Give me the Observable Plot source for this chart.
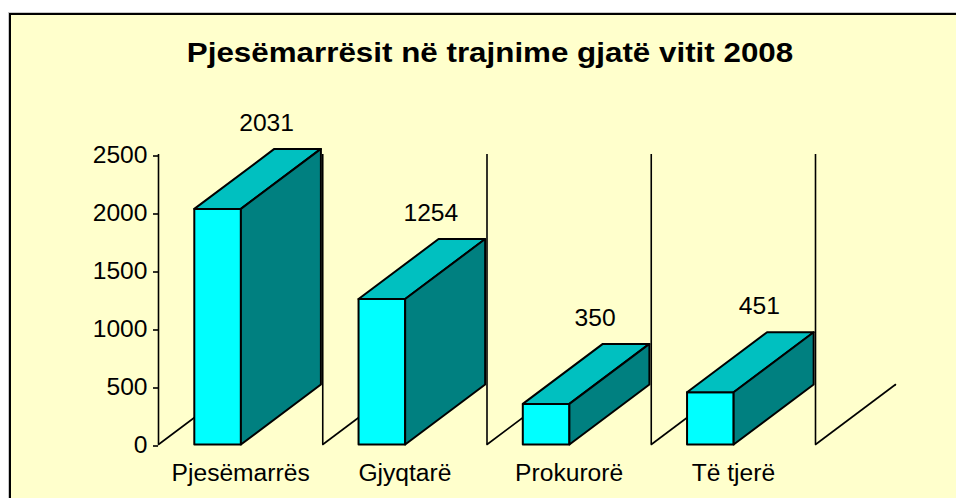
<!DOCTYPE html>
<html><head><meta charset="utf-8">
<script src="https://cdn.jsdelivr.net/npm/d3@7"></script>
<script src="https://cdn.jsdelivr.net/npm/@observablehq/plot@0.6"></script>
<style>
html,body{margin:0;padding:0;background:#fff;width:956px;height:498px;overflow:hidden;}
#frame{position:absolute;left:9px;top:13px;width:1000px;height:600px;background:#ffffcc;border-left:2px solid #000;border-top:2px solid #000;box-shadow:-1px -1px 0 #c8c8c8;}
#title{position:absolute;left:490px;top:38.5px;font:bold 27.5px/27.5px "Liberation Sans",Arial,sans-serif;white-space:nowrap;transform:translateX(-50%) scaleX(1.14);color:#000;}
#chart{position:absolute;left:0;top:0;}
</style></head><body>
<div id="frame"></div>
<div id="title">Pjesëmarrësit në trajnime gjatë vitit 2008</div>
<div id="chart"></div>
<script>
// ---- data ----
const categories = ["Pjesëmarrës", "Gjyqtarë", "Prokurorë", "Të tjerë"];
const values = [2031, 1254, 350, 451];
const yTicks = [0, 500, 1000, 1500, 2000, 2500];

// ---- layout ----
const W = 956, H = 498, mL = 158, mR = 141, mT = 154, mB = 54;
const yMax = 2500;
const catPx = (W - mL - mR) / categories.length;
const valPx = (H - mT - mB) / yMax;
const DX = 80 / catPx, DY = 60 / valPx;      // 3D depth in data units
const BW = 46.6 / catPx, BC = 59.1 / catPx;  // bar width / center offset

const rows = categories.map((c, i) => ({c, i, v: values[i], x1: i + BC - BW / 2, x2: i + BC + BW / 2}));
const poly = (k, pts) => pts.map(([x, y]) => ({k, x, y}));
const front = [], topF = [], side = [];
rows.forEach(r => {
  front.push(...poly(r.i, [[r.x1, 0], [r.x2, 0], [r.x2, r.v], [r.x1, r.v]]));
  topF.push(...poly(r.i, [[r.x1, r.v], [r.x2, r.v], [r.x2 + DX, r.v + DY], [r.x1 + DX, r.v + DY]]));
  side.push(...poly(r.i, [[r.x2, 0], [r.x2 + DX, DY], [r.x2 + DX, r.v + DY], [r.x2, r.v]]));
});
const bounds = d3.range(categories.length + 1);
const floor = bounds.flatMap(b => poly(b, [[b, 0], [b + DX, DY]]));

const svg = Plot.plot({
  width: W, height: H,
  marginLeft: mL, marginRight: mR, marginTop: mT, marginBottom: mB,
  style: {background: "transparent", fontFamily: "'Liberation Sans', Arial, sans-serif", fontSize: "23px", color: "#000", overflow: "visible"},
  x: {domain: [0, categories.length], axis: null},
  y: {domain: [0, yMax], axis: null},
  marks: [
    Plot.line(floor, {x: "x", y: "y", z: "k", stroke: "#000", strokeWidth: 1.6}),
    Plot.ruleX(bounds, {x: d => d, y1: 0, y2: yMax, stroke: "#000", strokeWidth: 1.6}),
    Plot.line(front, {x: "x", y: "y", z: "k", fill: "#00ffff", stroke: "#000", strokeWidth: 2, curve: "linear-closed"}),
    Plot.line(topF, {x: "x", y: "y", z: "k", fill: "#00c0c0", stroke: "#000", strokeWidth: 2, curve: "linear-closed"}),
    Plot.line(side, {x: "x", y: "y", z: "k", fill: "#008080", stroke: "#000", strokeWidth: 2, curve: "linear-closed"}),
    Plot.axisY({ticks: yTicks, tickSize: 5, tickPadding: 6, fontSize: 23, tickFormat: d => String(d), dy: 1.5, stroke: "#000", strokeWidth: 1.6, label: null}),
    Plot.text(rows, {x: r => r.i + 0.5, y: 0, text: "c", dy: 29, fontSize: 23, fill: "#000"}),
    Plot.text(rows, {x: r => (r.x1 + r.x2) / 2, y: r => r.v + DY, text: r => String(r.v), dx: 49, dy: -18, lineAnchor: "bottom", fontSize: 23, fill: "#000"})
  ]
});
document.getElementById("chart").appendChild(svg);
svg.querySelectorAll("text").forEach(t => {
  const L = t.getComputedTextLength();
  if (L > 0) { t.setAttribute("textLength", L * 1.07); t.setAttribute("lengthAdjust", "spacingAndGlyphs"); }
});
</script>
</body></html>
